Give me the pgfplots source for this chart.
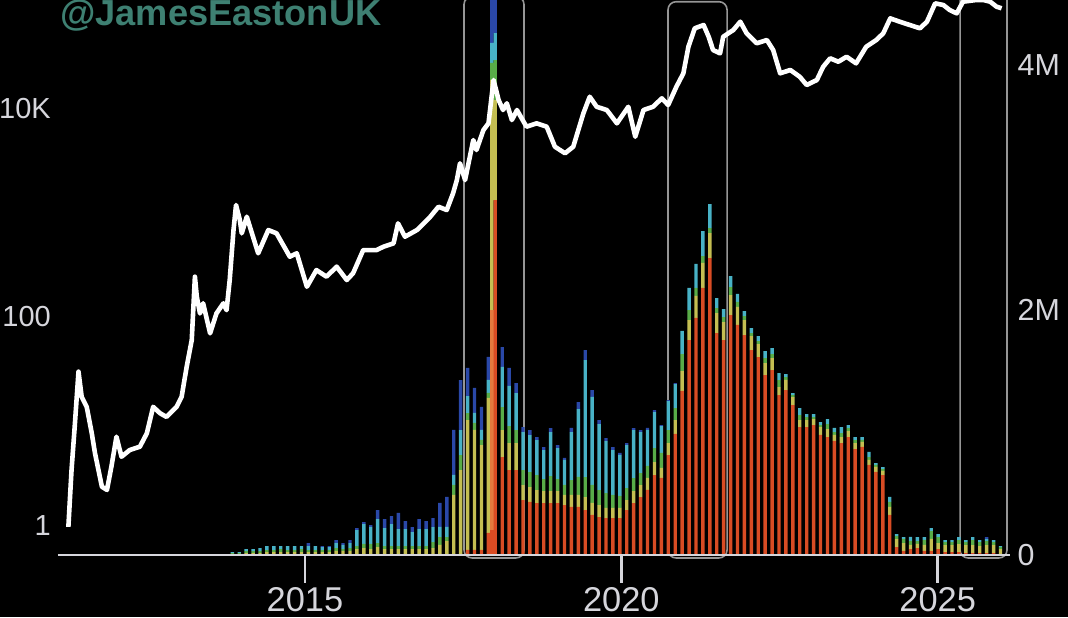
\documentclass[border=0pt]{standalone}
\usepackage{pgfplots}
\pgfplotsset{compat=1.18}
\usepackage{pgfplotstable}
\usepackage{fontspec}
\setmainfont{Liberation Sans}
\definecolor{cred}{RGB}{216,76,36}
\definecolor{corange}{RGB}{226,122,62}
\definecolor{cyellow}{RGB}{196,190,82}
\definecolor{cgreen}{RGB}{88,172,72}
\definecolor{ccyan}{RGB}{72,178,198}
\definecolor{cblue}{RGB}{42,72,168}
\definecolor{lab}{RGB}{214,214,220}
\definecolor{wm}{RGB}{62,128,114}
\definecolor{boxc}{RGB}{150,150,150}

\pgfplotstableread{
i r o y g c b
0 0 0 8 8 8 0
1 0 0 8 8 8 0
2 0 0 16 16 16 0
3 0 0 16 16 16 0
4 0 0 16 16 24 0
5 0 0 24 16 33 0
6 0 0 24 16 33 0
7 0 0 24 24 24 0
8 0 0 24 16 33 0
9 0 0 24 16 33 0
10 0 0 24 24 24 0
11 0 0 24 16 33 24
12 0 0 24 16 33 0
13 0 0 24 16 24 8
14 0 0 24 16 24 8
15 0 0 33 24 41 24
16 0 0 33 16 33 16
17 0 0 33 24 41 24
18 0 0 49 24 131 16
19 0 0 57 33 163 16
20 0 0 49 41 139 16
21 0 0 65 33 196 73
22 0 0 49 24 147 73
23 0 0 49 24 180 65
24 0 0 49 24 139 131
25 0 0 49 24 139 65
26 0 0 49 24 114 41
27 0 0 49 24 139 82
28 0 0 49 24 139 65
29 0 0 57 49 122 73
30 0 0 82 65 82 196
31 0 0 114 33 82 245
32 0 0 490 82 82 367
33 0 0 694 122 204 408
34 41 0 1061 57 139 229
35 41 0 980 57 82 204
36 41 0 857 41 82 188
37 180 0 1102 41 106 188
37.5 204 1796 1878 139 163 816
38 2898 0 816 327 220 653
39 800 0 220 188 327 163
40 694 0 220 139 327 147
41 694 0 220 106 302 82
42 449 0 122 122 310 41
43 433 0 122 122 302 41
44 424 0 106 122 286 24
45 424 0 98 98 237 24
46 424 0 98 122 359 33
47 424 0 98 98 253 24
48 408 0 82 82 204 16
49 392 0 98 122 392 33
50 392 0 98 147 555 57
51 367 0 106 163 955 82
52 327 0 98 147 718 57
53 310 0 98 122 539 33
54 302 0 82 122 424 24
55 302 0 82 106 367 24
56 302 0 82 98 335 16
57 367 0 82 98 351 16
58 424 0 98 106 392 16
59 473 0 98 98 335 16
60 531 0 98 98 294 16
61 653 0 106 114 294 16
62 629 0 82 122 220 8
63 816 0 98 106 237 8
64 988 0 114 98 196 8
65 1339 0 163 139 188 0
66 1755 0 163 82 180 0
67 1935 0 180 65 196 0
68 2180 0 204 57 204 0
69 2424 0 204 41 196 0
70 1812 0 163 41 82 0
71 1755 0 147 41 65 0
72 1959 0 163 65 90 0
73 1878 0 147 41 65 0
74 1796 0 122 33 41 0
75 1673 0 114 24 41 0
76 1616 0 106 24 41 0
77 1469 0 98 41 57 0
78 1510 0 98 33 49 0
79 1306 0 65 57 57 0
80 1347 0 82 24 24 0
81 1224 0 65 16 16 0
82 1045 0 57 41 57 0
83 1045 0 57 24 24 0
84 1061 0 49 16 24 0
85 980 0 65 16 24 0
86 963 0 65 41 41 0
87 931 0 49 24 33 0
88 914 0 49 33 49 0
89 963 0 49 24 24 0
90 865 0 49 24 24 0
91 882 0 41 16 24 0
92 735 0 41 24 41 0
93 678 0 41 16 16 0
94 653 0 33 16 16 0
95 327 0 65 41 41 0
96 65 0 65 24 16 0
97 33 0 65 33 16 0
98 49 0 33 33 33 0
99 57 0 33 24 33 0
100 33 0 49 41 24 0
101 33 0 98 65 24 0
102 49 0 49 49 24 0
103 24 0 57 24 16 0
104 24 0 57 24 16 0
105 24 0 65 33 24 0
106 16 0 65 24 16 0
107 16 0 65 41 24 0
108 16 0 57 33 16 0
109 16 0 65 33 16 16
110 16 0 65 24 16 0
111 8 0 41 16 8 0
}\bardata

\pgfplotstableread{
t p
2011.26 0.96
2011.31 3.37
2011.36 8.77
2011.42 29.6
2011.47 17.0
2011.55 13.6
2011.63 7.58
2011.68 4.91
2011.79 2.33
2011.87 2.17
2011.94 3.63
2012.02 7.03
2012.10 4.52
2012.23 5.24
2012.39 5.64
2012.50 7.58
2012.60 13.6
2012.71 11.8
2012.81 10.9
2012.97 13.6
2013.05 17.0
2013.13 33.0
2013.21 59.5
2013.26 241
2013.29 155
2013.34 107
2013.39 134
2013.50 69
2013.60 107
2013.71 134
2013.76 115
2013.81 224
2013.87 676
2013.91 1175
2013.97 843
2014.00 628
2014.08 906
2014.26 404
2014.42 676
2014.55 628
2014.76 375
2014.87 404
2015.03 193
2015.18 279
2015.34 241
2015.50 301
2015.66 224
2015.76 260
2015.92 434
2016.13 434
2016.24 467
2016.40 504
2016.47 783
2016.58 583
2016.77 676
2016.98 906
2017.11 1130
2017.24 1051
2017.34 1520
2017.40 2038
2017.45 2950
2017.53 2038
2017.66 4930
2017.71 3955
2017.82 6150
2017.90 7130
2017.98 18570
2018.06 11940
2018.13 9570
2018.19 11090
2018.27 7670
2018.35 9570
2018.50 6620
2018.66 7130
2018.82 6620
2018.95 4255
2019.11 3680
2019.24 4255
2019.40 8895
2019.50 12830
2019.61 10280
2019.77 9570
2019.93 7130
2020.11 10280
2020.22 5305
2020.35 9570
2020.50 10280
2020.64 12390
2020.74 10690
2020.87 16010
2020.98 21510
2021.06 38730
2021.16 58180
2021.30 62550
2021.38 48300
2021.45 35980
2021.56 33480
2021.61 48300
2021.77 56020
2021.88 67300
2021.98 52100
2022.14 41770
2022.30 44920
2022.40 35980
2022.51 21510
2022.67 23170
2022.82 19950
2022.93 16620
2023.09 18570
2023.19 24890
2023.30 29980
2023.43 27810
2023.56 31050
2023.71 26840
2023.87 38730
2024.03 44920
2024.14 52100
2024.25 72440
2024.40 67300
2024.56 62550
2024.72 58180
2024.83 67300
2024.96 101000
2025.09 97270
2025.19 87100
2025.30 80930
2025.40 104700
2025.61 108700
2025.72 108700
2025.83 104700
2025.93 93760
2026.01 90490
}\pricedata

\begin{document}
\begin{tikzpicture}
\fill[black] (-29pt,-31pt) rectangle (505pt,277.5pt);
% bars (right axis)
\begin{axis}[
  at={(0,0)}, anchor=south west,
  scale only axis, width=476pt, height=277.5pt,
  xmin=-25.19, xmax=112.38, ymin=0, ymax=4531,
  ybar stacked, bar width=1.7pt,
  clip mode=individual,
  axis x line=none,
  axis y line*=right,
  y axis line style={draw=none},
  ytick={0,2000,4000}, yticklabels={0,2M,4M},
  ytick style={draw=none}, major tick length=0pt,
  yticklabel style={anchor=west, inner sep=0pt, xshift=3.6pt, text=lab, font=\fontsize{15.2}{18}\selectfont},
]
\addplot[fill=cred, draw=none] table[x=i, y=r] {\bardata};
\addplot[fill=corange, draw=none] table[x=i, y=o] {\bardata};
\addplot[fill=cyellow, draw=none] table[x=i, y=y] {\bardata};
\addplot[fill=cgreen, draw=none] table[x=i, y=g] {\bardata};
\addplot[fill=ccyan, draw=none] table[x=i, y=c] {\bardata};
\addplot[fill=cblue, draw=none] table[x=i, y=b] {\bardata};
\draw[boxc, line width=0.8pt, rounded corners=4pt] (axis cs:33.48,-24) rectangle (axis cs:42.15,4560);
\draw[boxc, line width=0.8pt, rounded corners=4pt] (axis cs:62.96,-24) rectangle (axis cs:71.49,4517);
\draw[boxc, line width=0.8pt, rounded corners=4pt] (axis cs:105.16,-24) rectangle (axis cs:111.95,4700);
\end{axis}
% price (left axis, log)
\begin{axis}[
  at={(0,0)}, anchor=south west,
  scale only axis, width=476pt, height=277.5pt,
  xmin=2011.096, xmax=2026.143,
  ymode=log, ymin=0.5157, ymax=108700,
  axis x line*=bottom, axis y line*=left,
  y axis line style={draw=none},
  x axis line style={draw=lab, line width=1.4pt},
  xtick={2015,2020,2025}, xticklabels={2015,2020,2025},
  ytick={1,100,10000}, yticklabels={1,100,10K},
  yminorticks=false, xminorticks=false,
  tick align=outside,
  major tick length=14pt,
  xtick style={draw=lab, line width=1.3pt},
  ytick style={draw=none},
  xticklabel style={anchor=north, inner sep=0pt, yshift=-2pt, text=lab, font=\fontsize{17.2}{20}\selectfont},
  yticklabel style={anchor=east, inner sep=0pt, xshift=10.6pt, text=lab, font=\fontsize{14.5}{17}\selectfont},
]
\addplot[white, line width=2.3pt, line join=round] table[x=t, y=p] {\pricedata};
\end{axis}
\node[anchor=base west, inner sep=0pt, text=wm, font=\bfseries\fontsize{18.1}{20}\selectfont] at (1pt,264.5pt) {@JamesEastonUK};
\pgfresetboundingbox
\path[use as bounding box] (-29pt,-31pt) rectangle (505pt,277.5pt);
\end{tikzpicture}
\end{document}
